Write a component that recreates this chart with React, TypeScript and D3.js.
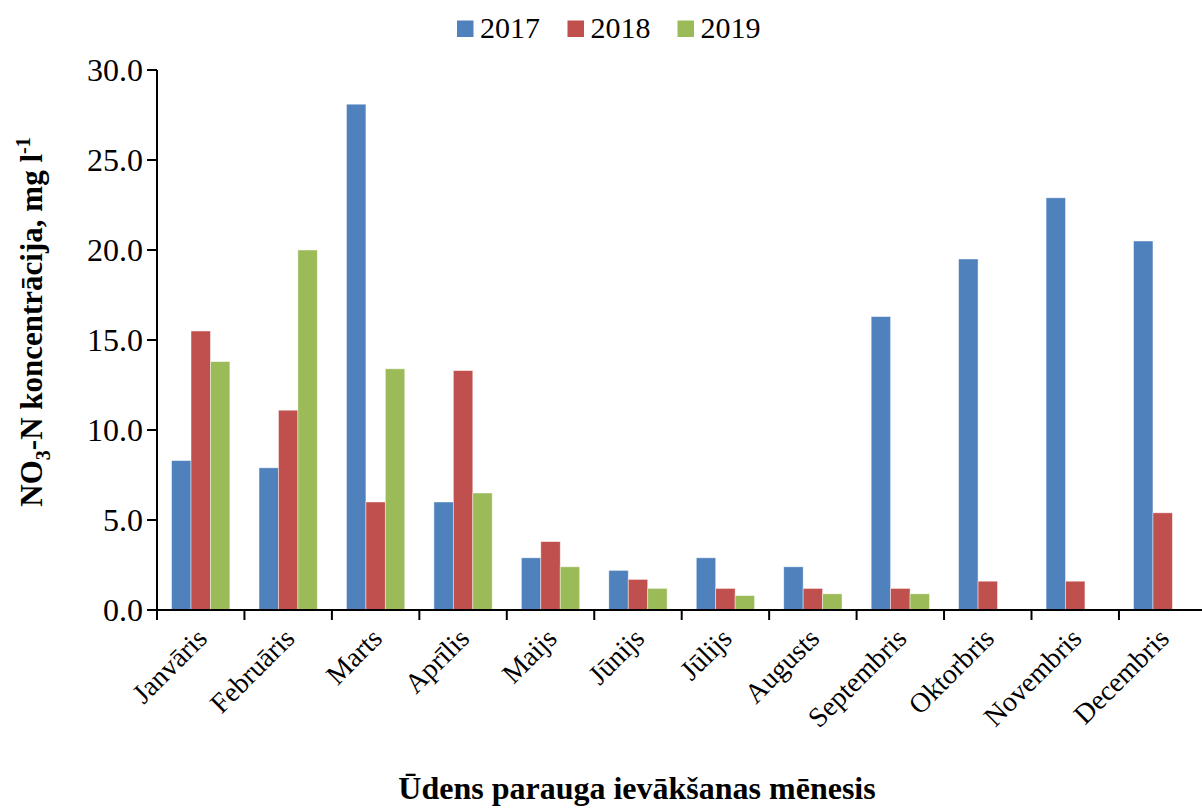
import React from "react";
import * as d3 from "d3";

const months = ["Janvāris", "Februāris", "Marts", "Aprīlis", "Maijs", "Jūnijs", "Jūlijs", "Augusts", "Septembris", "Oktorbris", "Novembris", "Decembris"];
const seriesNames = ["2017", "2018", "2019"];
const values2017 = [8.3, 7.9, 28.1, 6.0, 2.9, 2.2, 2.9, 2.4, 16.3, 19.5, 22.9, 20.5];
const values2018 = [15.5, 11.1, 6.0, 13.3, 3.8, 1.7, 1.2, 1.2, 1.2, 1.6, 1.6, 5.4];
const values2019: (number | null)[] = [13.8, 20.0, 13.4, 6.5, 2.4, 1.2, 0.8, 0.9, 0.9, null, null, null];
const yTicks = [0, 5, 10, 15, 20, 25, 30];
const colors = ["#4F81BD", "#C0504D", "#9BBB59"];

export default function App() {
  const W = 1202, H = 810;
  const left = 157, top = 70, bottom = 610;
  const catW = 87.45;
  const x = d3.scaleBand<string>().domain(months).range([left, left + catW * months.length]).padding(0);
  const xs = d3.scaleBand<string>().domain(seriesNames).range([0, x.bandwidth()]).paddingInner(0).paddingOuter(0.75);
  const y = d3.scaleLinear().domain([0, 30]).range([bottom, top]);
  const all = [values2017, values2018, values2019];
  const font = "'Liberation Serif', 'Times New Roman', serif";
  const fmt = d3.format(".1f");
  const legendX = [457, 567.5, 677.5];

  return (
    <svg width={W} height={H} style={{ position: "absolute", left: 0, top: 0, background: "#fff" }} fontFamily={font}>
      {/* legend */}
      {seriesNames.map((s, i) => (
        <g key={s}>
          <rect x={legendX[i]} y={20.5} width={16.5} height={16.5} fill={colors[i]} />
          <text x={legendX[i] + 23} y={37.5} fontSize={30} fill="#000">{s}</text>
        </g>
      ))}
      {/* bars */}
      {all.map((vals, si) => (
        <g key={si}>
          {vals.map((v, mi) =>
            v == null ? null : (
              <rect
                key={mi}
                x={(x(months[mi]) as number) + (xs(seriesNames[si]) as number)}
                y={y(v)}
                width={xs.bandwidth()}
                height={bottom - y(v)}
                fill={colors[si]}
                stroke="#ffffff"
                strokeOpacity={0.55}
                strokeWidth={0.8}
              />
            )
          )}
        </g>
      ))}
      {/* y axis */}
      <line x1={left} x2={left} y1={top} y2={bottom} stroke="#000" strokeWidth={2} />
      {yTicks.map((t) => (
        <g key={t}>
          <line x1={left - 10} x2={left} y1={y(t)} y2={y(t)} stroke="#000" strokeWidth={2} />
          <text x={left - 14} y={y(t)} dy="0.34em" textAnchor="end" fontSize={32} fill="#000">{fmt(t)}</text>
        </g>
      ))}
      {/* x axis */}
      <line x1={left - 10} x2={left + catW * months.length} y1={bottom} y2={bottom} stroke="#000" strokeWidth={2} />
      {d3.range(months.length + 1).map((i) => (
        <line key={i} x1={left + i * catW} x2={left + i * catW} y1={bottom} y2={bottom + 10} stroke="#000" strokeWidth={2} />
      ))}
      {months.map((m) => {
        const cx = (x(m) as number) + x.bandwidth() / 2;
        return (
          <text key={m} transform={`translate(${cx + 8},${640}) rotate(-45)`} textAnchor="end" fontSize={28} fill="#000">{m}</text>
        );
      })}
      {/* axis titles */}
      <text x={637} y={799} textAnchor="middle" fontSize={32} fontWeight="bold" fill="#000">Ūdens parauga ievākšanas mēnesis</text>
      <text transform={`translate(42,322) rotate(-90)`} textAnchor="middle" fontSize={31} fontWeight="bold" fill="#000">
        NO<tspan fontSize={20} dy={8}>3</tspan><tspan dy={-8}>-N koncentrācija, mg l</tspan><tspan fontSize={20} dy={-12}>-1</tspan>
      </text>
    </svg>
  );
}
